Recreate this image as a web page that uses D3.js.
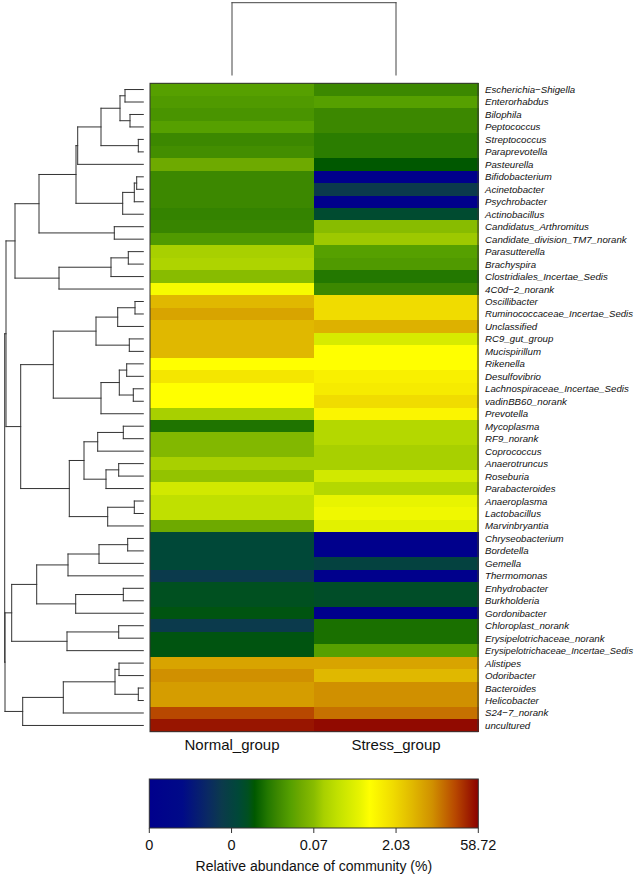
<!DOCTYPE html>
<html>
<head>
<meta charset="utf-8">
<script src="https://cdn.jsdelivr.net/npm/d3@7"></script>
<style>
  html, body { margin: 0; padding: 0; background: #fff; }
  svg { display: block; font-family: "Liberation Sans", Arial, sans-serif; }
</style>
</head>
<body>
<svg id="chart" width="638" height="880"></svg>
<script>
// ---------------- DATA ----------------
const taxa = [
  "Escherichia\u2212Shigella","Enterorhabdus","Bilophila","Peptococcus","Streptococcus",
  "Paraprevotella","Pasteurella","Bifidobacterium","Acinetobacter","Psychrobacter",
  "Actinobacillus","Candidatus_Arthromitus","Candidate_division_TM7_norank","Parasutterella",
  "Brachyspira","Clostridiales_Incertae_Sedis","4C0d\u22122_norank","Oscillibacter",
  "Ruminococcaceae_Incertae_Sedis","Unclassified","RC9_gut_group","Mucispirillum","Rikenella",
  "Desulfovibrio","Lachnospiraceae_Incertae_Sedis","vadinBB60_norank","Prevotella","Mycoplasma",
  "RF9_norank","Coprococcus","Anaerotruncus","Roseburia","Parabacteroides","Anaeroplasma",
  "Lactobacillus","Marvinbryantia","Chryseobacterium","Bordetella","Gemella","Thermomonas",
  "Enhydrobacter","Burkholderia","Gordonibacter","Chloroplast_norank","Erysipelotrichaceae_norank",
  "Erysipelotrichaceae_Incertae_Sedis","Alistipes","Odoribacter","Bacteroides","Helicobacter",
  "S24\u22127_norank","uncultured"
];
const groups = ["Normal_group", "Stress_group"];

// relative abundance (%)
const normalGroup = [
  0.0276,0.0241,0.0211,0.0276,0.0161,0.0185,0.0413,0.0161,0.0161,0.0161,
  0.0141,0.0151,0.0241,0.106,0.121,0.0708,0.608,3.99,5.97,3.99,
  3.99,3.99,0.695,1.36,0.695,0.695,0.106,0.0101,0.0618,0.0618,
  0.106,0.0809,0.271,0.181,0.181,0.0413,0.00321,0.00321,0.00321,0.00164,
  0.00481,0.00481,0.0055,0.00164,0.0055,0.0055,5.97,8.95,6.84,6.84,
  22.9,44.9
];
const stressGroup = [
  0.0161,0.0276,0.0161,0.0161,0.0123,0.0123,0.00628,0.000085,0.00164,0.000085,
  0.00367,0.0708,0.0925,0.0276,0.0241,0.0108,0.0161,1.78,1.78,4.57,
  0.310,0.695,0.695,1.04,1.19,1.78,0.910,0.138,0.138,0.106,
  0.106,0.271,0.138,0.465,0.531,0.406,0.000085,0.000085,0.00245,0.000085,
  0.0042,0.0042,0.000085,0.00942,0.00942,0.0276,5.97,3.99,8.95,8.95,
  13.4,51.4
];

// legend
const legendTickLabels = ["0", "0", "0.07", "2.03", "58.72"];
const legendDomain = [0.000085, 58.72];
const legendTitle = "Relative abundance of community (%)";

// colour ramp (position on legend, colour)
const rampPos = [0, 0.10, 0.18, 0.22, 0.27, 0.30, 0.32, 0.36, 0.39, 0.43, 0.46, 0.50, 0.53, 0.57, 0.64, 0.67, 0.74, 0.80, 0.86, 0.93, 1.0];
const rampCol = ["#00008c","#000a88","#0a2a62","#0b3a4c","#004838","#005020","#005800","#237800","#3c8800","#56a000","#6eaa00","#88bc00","#a8d000","#c0e000","#e8f400","#ffff00","#f0dc00","#e0b800","#d09000","#b84800","#8b0000"];

// row dendrogram: [height, left, right], leaves = row index
const rowTree = [138.6,
  [137.3,
    [128.3,
      [104.3,
        [67.3,
          [65.6, [42.3, [23.3, [18.3, 0, 1], [13.3, 2, 3]], [5, 4, 5]], 6],
          [20.6, [9, [6.6, 7, 8], 9], 10]],
        [29, 11, 12]],
      [84.3, [32.3, [15, 13, 14], 15], 16]],
    [122.6,
      [90,
        [47.3, [25.6, [8.3, 17, 18], 19], [14, 20, 21]],
        [42.3, [24, [16.6, 22, 23], [10, 24, 25]], 26]],
      [74,
        [59.3, [45.6, [20, 27, 28], 29], [37.3, [24.6, 30, 31], 32]],
        [35.6, [9, 33, 34], 35]]]],
  [138.3,
    [131.6,
      [106.6, [75.3, [44.3, [15.6, 36, 37], 38], 39], [67.6, [20, 40, 41], 42]],
      [76.3, [24.6, 43, 44], 45]],
    [120.6, [80, [28.3, [24.3, 46, 47], [5, 48, 49]], 50], 51]]];

// column dendrogram
const colTree = [1, 0, 1];

// ---------------- DRAW ----------------
const svg = d3.select("#chart");
const hm = { left: 150, right: 478, top: 83.3, bottom: 731.7 };

const x = d3.scaleBand().domain(groups).range([hm.left, hm.right]);
const y = d3.scaleBand().domain(d3.range(taxa.length)).range([hm.top, hm.bottom]);

const toPos = d3.scaleLog().domain(legendDomain).range([0, 1]).clamp(true);
const ramp = d3.scaleLinear().domain(rampPos).range(rampCol).interpolate(d3.interpolateRgb);
const colour = v => ramp(toPos(v));

const cells = [];
taxa.forEach((t, i) => {
  cells.push({ g: groups[0], i, v: normalGroup[i] });
  cells.push({ g: groups[1], i, v: stressGroup[i] });
});

svg.append("g").selectAll("rect").data(cells).join("rect")
  .attr("x", d => x(d.g))
  .attr("y", d => y(d.i))
  .attr("width", x.bandwidth() + 0.5)
  .attr("height", y.bandwidth() + 0.5)
  .attr("fill", d => colour(d.v))
  .attr("shape-rendering", "crispEdges");

svg.append("rect")
  .attr("x", hm.left).attr("y", hm.top)
  .attr("width", hm.right - hm.left).attr("height", hm.bottom - hm.top)
  .attr("fill", "none").attr("stroke", "#333").attr("stroke-width", 1);

// row labels (shrink any label that would not fit before the right edge)
const labelX = hm.right + 7;
const maxLabelW = 638 - labelX - 4;
const baseFs = 9.7;
const labels = svg.append("g").selectAll("text").data(taxa).join("text")
  .attr("x", labelX)
  .attr("y", (d, i) => y(i) + y.bandwidth() / 2)
  .attr("dy", "0.36em")
  .attr("font-size", baseFs)
  .attr("font-style", "italic")
  .attr("fill", "#111")
  .text(d => d);
labels.each(function () {
  const w = this.getComputedTextLength();
  if (w > maxLabelW) {
    const target = w > maxLabelW + 15 ? 139 : maxLabelW - 1;
    d3.select(this).attr("font-size", (baseFs * target / w).toFixed(2));
  }
});

// column labels
svg.append("g").selectAll("text").data(groups).join("text")
  .attr("x", d => x(d) + x.bandwidth() / 2)
  .attr("y", hm.bottom + 18.5)
  .attr("text-anchor", "middle")
  .attr("font-size", 15)
  .attr("fill", "#111")
  .text(d => d);

// row dendrogram
const isNode = d => Array.isArray(d);
const rootR = d3.hierarchy(rowTree, d => isNode(d) ? d.slice(1) : null);
const maxH = rowTree[0];
const hx = d3.scaleLinear().domain([0, maxH]).range([143.3, 4.7]);
rootR.eachAfter(n => {
  n.hh = isNode(n.data) ? n.data[0] : 0;
  n.px = hx(n.hh);
  n.py = n.children ? d3.mean(n.children, c => c.py) : y(n.data) + y.bandwidth() / 2;
});
const segs = [];
rootR.each(n => {
  if (!n.children) return;
  const [a, b] = n.children;
  segs.push([n.px, a.py, n.px, b.py]);
  segs.push([a.px, a.py, n.px, a.py]);
  segs.push([b.px, b.py, n.px, b.py]);
});
svg.append("g").selectAll("line").data(segs).join("line")
  .attr("x1", d => d[0]).attr("y1", d => d[1])
  .attr("x2", d => d[2]).attr("y2", d => d[3])
  .attr("stroke", "#333").attr("stroke-width", 1)
  .attr("stroke-linecap", "square");

// column dendrogram
const cy = d3.scaleLinear().domain([0, colTree[0]]).range([75, 2.7]);
const cx = g => x(g) + x.bandwidth() / 2;
const cSegs = [
  [cx(groups[colTree[1]]), cy(0), cx(groups[colTree[1]]), cy(colTree[0])],
  [cx(groups[colTree[2]]), cy(0), cx(groups[colTree[2]]), cy(colTree[0])],
  [cx(groups[colTree[1]]), cy(colTree[0]), cx(groups[colTree[2]]), cy(colTree[0])]
];
svg.append("g").selectAll("line").data(cSegs).join("line")
  .attr("x1", d => d[0]).attr("y1", d => d[1])
  .attr("x2", d => d[2]).attr("y2", d => d[3])
  .attr("stroke", "#444").attr("stroke-width", 1)
  .attr("stroke-linecap", "square");

// legend
const lg = { left: 149.3, right: 478.3, top: 779, bottom: 828 };
const defs = svg.append("defs");
const grad = defs.append("linearGradient").attr("id", "ramp")
  .attr("x1", "0%").attr("x2", "100%").attr("y1", "0%").attr("y2", "0%");
grad.selectAll("stop").data(rampPos).join("stop")
  .attr("offset", d => (d * 100) + "%")
  .attr("stop-color", (d, i) => rampCol[i]);
svg.append("rect")
  .attr("x", lg.left).attr("y", lg.top)
  .attr("width", lg.right - lg.left).attr("height", lg.bottom - lg.top)
  .attr("fill", "url(#ramp)")
  .attr("stroke", "#333").attr("stroke-width", 1);

const lx = d3.scalePoint().domain(d3.range(legendTickLabels.length)).range([lg.left, lg.right]);
const ticks = svg.append("g");
ticks.selectAll("line").data(legendTickLabels).join("line")
  .attr("x1", (d, i) => lx(i)).attr("x2", (d, i) => lx(i))
  .attr("y1", lg.bottom).attr("y2", lg.bottom + 5)
  .attr("stroke", "#333");
ticks.selectAll("text").data(legendTickLabels).join("text")
  .attr("x", (d, i) => lx(i))
  .attr("y", lg.bottom + 22)
  .attr("text-anchor", "middle")
  .attr("font-size", 14.5)
  .attr("fill", "#111")
  .text(d => d);

svg.append("text")
  .attr("x", (lg.left + lg.right) / 2)
  .attr("y", lg.bottom + 43)
  .attr("text-anchor", "middle")
  .attr("font-size", 14)
  .attr("fill", "#111")
  .text(legendTitle);
</script>
</body>
</html>
